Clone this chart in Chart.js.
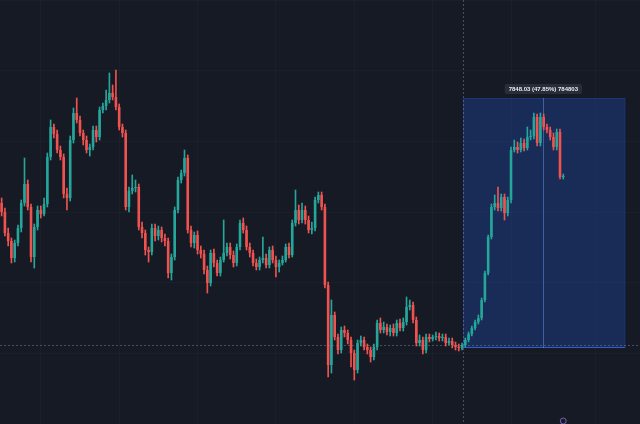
<!DOCTYPE html>
<html>
<head>
<meta charset="utf-8">
<script src="https://cdn.jsdelivr.net/npm/chart.js@4.4.0/dist/chart.umd.min.js"></script>
<style>
  html, body { margin: 0; padding: 0; background: #161a25; }
  #wrap { width: 640px; height: 424px; }
</style>
</head>
<body>
<div id="wrap"><canvas id="chart"></canvas></div>
<script>
// candles, left to right (prices)
const openP = [
  20910, 20640, 20010, 19770, 19260, 19710, 20160, 20910, 21480, 20790,
  19290, 20190, 20700, 20580, 20880, 22290, 23190, 22980, 22500, 22290,
  21180, 21060, 22800, 23610, 23400, 23010, 22800, 22500, 22590, 23100,
  22890, 23700, 23820, 24000, 24210, 24090, 23790, 23190, 23010, 20790,
  21270, 21360, 21390, 20190, 20010, 19500, 19440, 20160, 19920, 20100,
  19860, 19770, 18810, 19290, 20700, 21600, 21810, 22260, 20100, 19710,
  19950, 19500, 19380, 18900, 18510, 19410, 19110, 18810, 19200, 19410,
  19590, 19350, 19110, 19590, 20310, 20100, 19590, 19410, 19110, 18990,
  19200, 19260, 19050, 19500, 19200, 18990, 19110, 19200, 19590, 19350,
  20310, 20700, 20400, 20700, 20400, 20100, 20160, 21000, 21150, 20790,
  18450, 16050, 17550, 16890, 16500, 17100, 17010, 16800, 16410, 15900,
  16710, 16800, 16590, 16500, 16290, 16590, 17310, 17100, 17190, 17040,
  17160, 17010, 17310, 17160, 17340, 17790, 17850, 17400, 16710, 16800,
  16500, 16890, 16830, 16890, 16920, 16860, 16890, 16710, 16770, 16650,
  16590, 16560, 16650, 16800, 16980, 17160, 17340, 17460, 18000, 18810,
  19890, 20790, 20910, 20760, 21090, 20610, 21000, 22500, 22590, 22500,
  22710, 22560, 22890, 22920, 23490, 22710, 23490, 23190, 23100, 22890,
  22590, 23040, 21690
];
const closeP = [
  20640, 20010, 19770, 19260, 19710, 20160, 20910, 21480, 20790, 19290,
  20190, 20700, 20580, 20880, 22290, 23190, 22980, 22500, 22290, 21180,
  21060, 22800, 23610, 23400, 23010, 22800, 22500, 22590, 23100, 22890,
  23700, 23820, 24000, 24210, 24090, 23790, 23190, 23010, 20790, 21270,
  21360, 21390, 20190, 20010, 19500, 19440, 20160, 19920, 20100, 19860,
  19770, 18810, 19290, 20700, 21600, 21810, 22260, 20100, 19710, 19950,
  19500, 19380, 18900, 18510, 19410, 19110, 18810, 19200, 19410, 19590,
  19350, 19110, 19590, 20310, 20100, 19590, 19410, 19110, 18990, 19200,
  19260, 19050, 19500, 19200, 18990, 19110, 19200, 19590, 19350, 20310,
  20700, 20400, 20700, 20400, 20100, 20160, 21000, 21150, 20790, 18450,
  16050, 17550, 16890, 16500, 17100, 17010, 16800, 16410, 15900, 16710,
  16800, 16590, 16500, 16290, 16590, 17310, 17100, 17190, 17040, 17160,
  17010, 17310, 17160, 17340, 17790, 17850, 17400, 16710, 16800, 16500,
  16890, 16830, 16890, 16920, 16860, 16890, 16710, 16770, 16650, 16590,
  16560, 16650, 16800, 16980, 17160, 17340, 17460, 18000, 18810, 19890,
  20790, 20910, 20760, 21090, 20610, 21000, 22500, 22590, 22500, 22710,
  22560, 22890, 22920, 23490, 22710, 23490, 23190, 23100, 22890, 22590,
  23040, 21690, 21720
];
const highP = [
  21060, 20760, 20160, 19860, 19800, 20250, 21000, 22260, 21600, 20880,
  20280, 20820, 20820, 21060, 22410, 23400, 23280, 23100, 22620, 22380,
  21360, 22920, 23760, 24060, 23520, 23100, 22920, 22680, 23220, 23220,
  23790, 23910, 24300, 24810, 24450, 24900, 23880, 23280, 23100, 21390,
  21750, 21600, 21480, 20340, 20100, 19590, 20280, 20280, 20220, 20190,
  19980, 19860, 19380, 20790, 21690, 21900, 22500, 22350, 20220, 20040,
  20070, 19620, 19500, 19020, 19500, 19530, 19200, 19290, 20400, 19710,
  19710, 19470, 19680, 20400, 20460, 20220, 19710, 19500, 19230, 19290,
  19890, 19380, 19590, 19620, 19320, 19200, 19320, 19680, 19710, 20400,
  21300, 20850, 20910, 20820, 20520, 20340, 21090, 21240, 21240, 20880,
  18540, 18000, 17640, 16980, 17190, 17220, 17100, 16890, 16500, 16800,
  16920, 16890, 16680, 16590, 16680, 17400, 17460, 17340, 17280, 17250,
  17280, 17400, 17430, 17460, 18090, 18000, 17940, 17490, 16950, 16890,
  16980, 16980, 16950, 17040, 17010, 16980, 16980, 16860, 16860, 16740,
  16680, 16710, 16860, 17040, 17220, 17400, 17550, 18060, 18870, 19950,
  20880, 21150, 21390, 21180, 21180, 21090, 22590, 22800, 22740, 22860,
  22830, 23190, 23100, 23610, 23580, 23610, 23580, 23280, 23190, 23010,
  23130, 23130, 21780
];
const lowP = [
  20520, 19920, 19620, 19110, 19140, 19620, 20040, 20820, 20700, 19140,
  18960, 20100, 20460, 20520, 20790, 22200, 22860, 22410, 22200, 21060,
  20700, 20970, 22710, 23310, 22920, 22650, 22410, 22320, 22500, 22740,
  22800, 23610, 23700, 23910, 24000, 23700, 23100, 22890, 20700, 20640,
  21180, 21240, 20100, 19860, 19350, 19140, 19350, 19770, 19800, 19740,
  19620, 18660, 18600, 19200, 20610, 21510, 21720, 20010, 19590, 19560,
  19380, 19260, 18780, 18210, 18420, 18990, 18720, 18720, 19140, 19320,
  19230, 18990, 19020, 19500, 20010, 19500, 19290, 19020, 18900, 18900,
  19110, 18960, 18960, 19110, 18690, 18840, 19050, 19140, 19260, 19290,
  20220, 20280, 20310, 20280, 20010, 19980, 20070, 20910, 20700, 18360,
  15690, 15810, 16800, 16380, 16410, 16890, 16680, 15990, 15600, 15810,
  16620, 16500, 16380, 16140, 16200, 16500, 17010, 17010, 16950, 16920,
  16920, 16920, 17070, 17070, 17250, 17700, 17310, 16620, 16620, 16380,
  16410, 16740, 16770, 16800, 16770, 16770, 16620, 16650, 16560, 16500,
  16470, 16500, 16590, 16740, 16920, 17100, 17280, 17400, 17940, 18750,
  19830, 20700, 20670, 20670, 20400, 20520, 20910, 22440, 22410, 22440,
  22470, 22500, 22800, 22830, 22620, 22620, 23100, 23010, 22800, 22500,
  22500, 21630, 21630
];

// price range tool (start/end bar, start/end price) and crosshair
const rangeBars = [141.3, 191];
const rangePrices = [16560, 24060];
const rangeArrowBar = 165.9;
const rangeLabel = '7848.03 (47.85%) 784803';
const crossBar = 141.3;
const crossPrice = 16650;

const UP = '#26a69a', DOWN = '#ef5350';

if ([closeP, highP, lowP].some(a => a.length !== openP.length)) throw new Error('length mismatch');

const colors = openP.map((o, i) => closeP[i] >= o ? UP : DOWN);

const overlay = {
  id: 'overlay',
  beforeDraw(c) {
    const ctx = c.ctx;
    ctx.save();
    ctx.fillStyle = '#161a25';
    ctx.fillRect(0, 0, c.width, c.height);
    ctx.restore();
  },
  beforeDatasetsDraw(c) {
    const { ctx, scales: { x, y }, chartArea: a } = c;
    const x0 = x.getPixelForValue(rangeBars[0]), x1 = x.getPixelForValue(rangeBars[1]);
    const yb = y.getPixelForValue(rangePrices[0]), yt = y.getPixelForValue(rangePrices[1]);
    const xm = x.getPixelForValue(rangeArrowBar);
    ctx.save();
    ctx.fillStyle = 'rgba(41,98,255,0.23)';
    ctx.fillRect(x0, yt, x1 - x0, yb - yt);
    ctx.strokeStyle = 'rgba(41,98,255,0.18)';
    ctx.lineWidth = 1;
    ctx.strokeRect(x0 + 0.5, yt + 0.5, x1 - x0 - 1, yb - yt - 1);
    ctx.strokeStyle = 'rgba(70,120,255,0.6)';
    ctx.beginPath();
    ctx.moveTo(x0, Math.round(yb) - 0.5); ctx.lineTo(x1, Math.round(yb) - 0.5);
    ctx.stroke();
    ctx.strokeStyle = 'rgba(120,155,255,0.45)';
    ctx.beginPath();
    ctx.moveTo(Math.round(xm) + 0.5, yt); ctx.lineTo(Math.round(xm) + 0.5, yb);
    ctx.stroke();
    // crosshair
    const cx = Math.round(x.getPixelForValue(crossBar)) + 0.5;
    const cy = Math.round(y.getPixelForValue(crossPrice)) + 0.5;
    ctx.strokeStyle = 'rgba(150,156,175,0.4)';
    ctx.setLineDash([2, 2]);
    ctx.beginPath();
    ctx.moveTo(cx, a.top); ctx.lineTo(cx, a.bottom);
    ctx.moveTo(a.left, cy); ctx.lineTo(a.right, cy);
    ctx.stroke();
    ctx.restore();
  },
  afterDatasetsDraw(c) {
    const { ctx, scales: { x, y }, chartArea: a } = c;
    const xm = x.getPixelForValue(rangeArrowBar);
    const yt = y.getPixelForValue(rangePrices[1]);
    ctx.save();
    ctx.font = '600 6px "Liberation Sans", Arial, sans-serif';
    const w = ctx.measureText(rangeLabel).width + 8;
    ctx.fillStyle = 'rgba(42,46,57,0.95)';
    ctx.beginPath();
    ctx.roundRect(xm - w / 2, yt - 14, w, 10, 2);
    ctx.fill();
    ctx.fillStyle = '#e8eaf0';
    ctx.textAlign = 'center';
    ctx.textBaseline = 'middle';
    ctx.fillText(rangeLabel, xm, yt - 9);
    // small event marker at the bottom
    ctx.strokeStyle = 'rgba(140,110,220,0.8)';
    ctx.lineWidth = 1;
    ctx.beginPath();
    ctx.arc(x.getPixelForValue(openP.length - 1), a.bottom - 3, 3, 0, Math.PI * 2);
    ctx.stroke();
    ctx.restore();
  }
};

new Chart(document.getElementById('chart'), {
  type: 'bar',
  data: {
    datasets: [
      {
        label: 'wick',
        data: highP.map((h, i) => ({ x: i, y: [lowP[i], h] })),
        backgroundColor: colors,
        barThickness: 1,
        grouped: false,
        order: 2
      },
      {
        label: 'body',
        data: openP.map((o, i) => ({ x: i, y: [o, closeP[i]] })),
        backgroundColor: colors,
        categoryPercentage: 1,
        barPercentage: 0.8,
        minBarLength: 1,
        grouped: false,
        order: 1
      }
    ]
  },
  options: {
    responsive: true,
    maintainAspectRatio: false,
    animation: false,
    layout: { padding: 0 },
    plugins: { legend: { display: false }, tooltip: { enabled: false } },
    scales: {
      x: {
        type: 'linear', min: -0.5, max: 195.5, offset: false,
        ticks: { display: false, stepSize: 24 },
        grid: { color: 'rgba(255,255,255,0.022)', drawTicks: false },
        border: { display: false }
      },
      y: {
        min: 14280, max: 27000,
        ticks: { display: false, stepSize: 2250 },
        grid: { color: 'rgba(255,255,255,0.022)', drawTicks: false },
        border: { display: false }
      }
    }
  },
  plugins: [overlay]
});
</script>
</body>
</html>
